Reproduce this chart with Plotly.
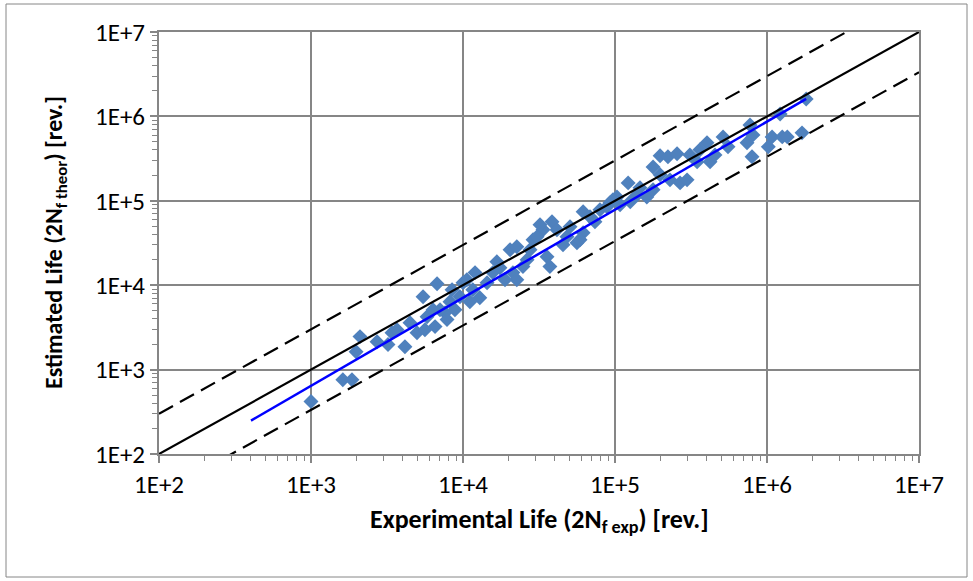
import plotly.graph_objects as go

# ---- data (cycles) ----
exp_life = [1000, 1620, 1860, 1980, 2100, 2720, 3210, 3410, 3680, 4150,
            4480, 4980, 5460, 5800, 6550, 6750, 6350, 7620, 8210, 7850,
            9550, 10000, 10600, 12000, 12900, 14400, 11600, 15700, 16700, 20400,
            24800, 28900, 33600, 38500, 41500, 35700, 48300, 56200, 61700, 50600,
            68500, 79600, 92700, 103000, 37300, 26400, 21300, 22600, 30700, 58900,
            61700, 88500, 97000, 122000, 140000, 162000, 178000, 178000, 198000, 223000,
            256000, 230000, 268000, 298000, 311000, 347000, 403000, 422000, 514000, 554000,
            773000, 809000, 739000, 797000, 1020000, 1080000, 1220000, 1260000, 1360000, 1700000,
            1810000, 126000, 8850, 7060, 22600, 17500, 27600, 45500, 73800, 108000,
            146000, 362000, 455000, 198000, 8470, 11100, 18900, 32100, 5620]
est_life = [420, 760, 760, 1630, 2460, 2140, 1980, 2740, 2970, 1870,
            3600, 2740, 7310, 4240, 3230, 10400, 5130, 4730, 6380, 3910,
            7310, 10700, 11600, 14100, 7110, 10700, 8850, 14100, 19000, 26300,
            16600, 34600, 45400, 56500, 45400, 21700, 37500, 31800, 41800, 49200,
            64700, 78300, 94700, 111000, 16600, 20000, 14100, 28600, 37500, 34600,
            74100, 84900, 103000, 163000, 118000, 111000, 135000, 252000, 341000, 332000,
            360000, 177000, 163000, 177000, 350000, 290000, 486000, 290000, 572000, 436000,
            793000, 604000, 486000, 332000, 436000, 572000, 1070000, 572000, 572000, 638000,
            1610000, 97300, 5130, 5130, 11600, 16100, 26300, 30100, 56500, 89700,
            143000, 402000, 350000, 203000, 8850, 6380, 11600, 52000, 2970]

# reference lines: perfect agreement and factor-of-3 scatter band
ref_x = [1e2, 1e7]
ref_y = [1e2, 1e7]
band_factor = 3
upper_y = [v * band_factor for v in ref_x]
lower_y = [v / band_factor for v in ref_x]

# fitted trend line (end points)
fit_x = [403, 1.81e6]
fit_y = [249, 1.61e6]

tick_vals = [1e2, 1e3, 1e4, 1e5, 1e6, 1e7]
tick_text = ["1E+2", "1E+3", "1E+4", "1E+5", "1E+6", "1E+7"]
minor_vals = [k * 10 ** e for e in range(2, 7) for k in range(2, 10)]

FONT = "Carlito, Calibri, Lato, sans-serif"
GRID = "#868686"

fig = go.Figure()
fig.add_trace(go.Scatter(x=exp_life, y=est_life, mode="markers",
                         marker=dict(symbol="diamond", size=11.5, color="#4F81BD",
                                     line=dict(width=0)),
                         showlegend=False))
fig.add_trace(go.Scatter(x=ref_x, y=upper_y, mode="lines",
                         line=dict(color="black", width=2.2, dash="16px,8px"), showlegend=False))
fig.add_trace(go.Scatter(x=ref_x, y=lower_y, mode="lines",
                         line=dict(color="black", width=2.2, dash="16px,8px"), showlegend=False))
fig.add_trace(go.Scatter(x=ref_x, y=ref_y, mode="lines",
                         line=dict(color="black", width=2.2), showlegend=False))
fig.add_trace(go.Scatter(x=fit_x, y=fit_y, mode="lines",
                         line=dict(color="#0000FF", width=2.5), showlegend=False))

axis_common = dict(
    type="log", range=[2, 7], tickmode="array", tickvals=tick_vals, ticktext=tick_text,
    showgrid=True, gridcolor=GRID, gridwidth=1.5,
    showline=True, linecolor=GRID, linewidth=2, mirror=True,
    ticks="outside", ticklen=7, tickcolor=GRID, tickwidth=1.5,
    tickfont=dict(family=FONT, size=25, color="black"),
    minor=dict(tickmode="array", tickvals=minor_vals, ticks="outside", ticklen=5,
               tickcolor=GRID, tickwidth=1, showgrid=False),
    zeroline=False,
)
fig.update_xaxes(**axis_common)
fig.update_yaxes(**axis_common)

fig.update_layout(
    width=973, height=581,
    margin=dict(l=159, r=54, t=32, b=127),
    paper_bgcolor="white", plot_bgcolor="white",
    font=dict(family=FONT, color="black"),
    shapes=[dict(type="rect", xref="paper", yref="paper",
                 x0=(6 - 159) / 760, x1=(967 - 159) / 760,
                 y0=(454 - 577) / 422, y1=(454 - 4) / 422,
                 line=dict(color="#868686", width=1), layer="below")],
    annotations=[
        dict(text="<b>Experimental Life (2N<sub>f exp</sub>) [rev.]</b>",
             xref="paper", yref="paper", x=0.5, y=(454 - 520) / 422,
             showarrow=False, xanchor="center", yanchor="middle",
             font=dict(family=FONT, size=26, color="black")),
        dict(text="<b>Estimated Life (2N<sub>f theor</sub>) [rev.]</b>",
             xref="paper", yref="paper", x=(55 - 159) / 760, y=0.5, textangle=-90,
             showarrow=False, xanchor="center", yanchor="middle",
             font=dict(family=FONT, size=24, color="black")),
    ],
)

fig.write_html("out.html")
